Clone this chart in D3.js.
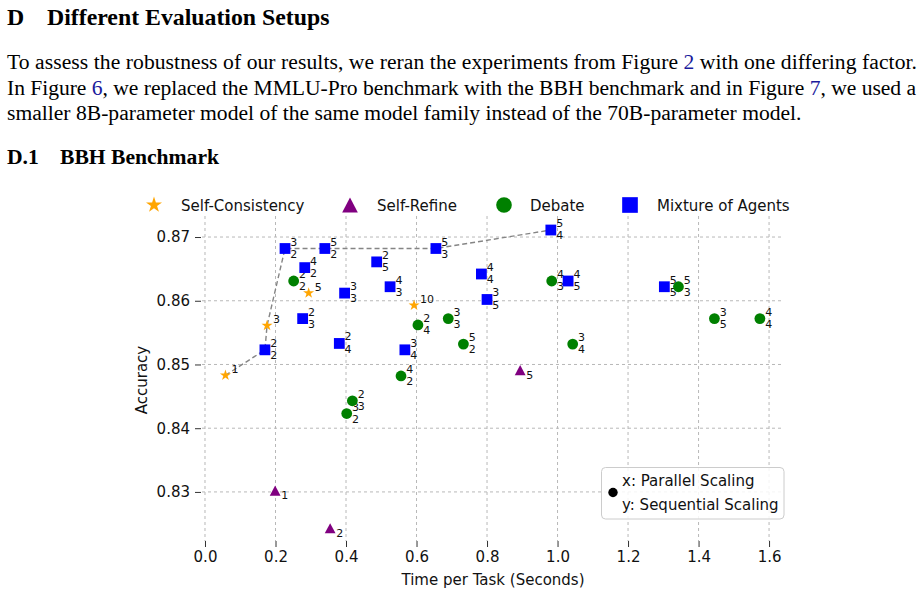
<!DOCTYPE html>
<html><head><meta charset="utf-8">
<script src="https://cdn.jsdelivr.net/npm/d3@7"></script>
<style>body{margin:0;background:#fff}svg{display:block}</style>
</head><body>
<svg id="c" width="923" height="595"></svg>
<script>
// ---------- data ----------
const xTicks = [0.0, 0.2, 0.4, 0.6, 0.8, 1.0, 1.2, 1.4, 1.6];
const yTicks = [0.83, 0.84, 0.85, 0.86, 0.87];

const scX = [0.058, 0.176, 0.294, 0.593];
const scY = [0.8483, 0.8561, 0.8612, 0.8593];
const scLabels = ["1", "3", "5", "10"];

const srX = [0.199, 0.355, 0.894];
const srY = [0.8302, 0.8243, 0.8491];
const srLabels = ["1", "2", "5"];

const debX = [0.2515, 0.604, 0.690, 0.733, 0.556, 0.418, 0.402, 0.9835, 1.343, 1.445, 1.574, 1.043];
const debY = [0.8631, 0.8562, 0.8572, 0.8532, 0.8482, 0.8443, 0.8423, 0.8631, 0.8622, 0.8572, 0.8572, 0.8532];
const debPar = [2, 2, 3, 5, 4, 2, 3, 4, 5, 3, 4, 3];
const debSeq = [2, 4, 3, 2, 2, 3, 2, 3, 3, 5, 4, 4];

const moaX = [0.227, 0.340, 0.655, 0.981, 0.283, 0.487, 0.525, 0.396, 0.277, 0.170, 0.381, 0.567, 0.784, 0.800, 1.030, 1.303];
const moaY = [0.8682, 0.8682, 0.8682, 0.8711, 0.8652, 0.8661, 0.8622, 0.8612, 0.8572, 0.8523, 0.8533, 0.8523, 0.8642, 0.8602, 0.8631, 0.8622];
const moaPar = [3, 5, 5, 5, 4, 2, 4, 3, 2, 2, 2, 3, 4, 3, 4, 5];
const moaSeq = [2, 2, 3, 4, 2, 5, 3, 3, 3, 2, 4, 4, 4, 5, 5, 5];

const legendNames = ["Self-Consistency", "Self-Refine", "Debate", "Mixture of Agents"];
const colors = ["#FFA500", "#800080", "#008000", "#0000FF"];

// ---------- page text ----------
const svg = d3.select("#c");
const serif = "'Liberation Serif','Times New Roman',serif";
const sans = "'DejaVu Sans',sans-serif";

function tline(parts, xx, yy, size, weight, len) {
  const t = svg.append("text").attr("x", xx).attr("y", yy)
    .attr("font-family", serif).attr("font-size", size).attr("font-weight", weight || "normal")
    .attr("fill", "#000");
  parts.forEach(p => t.append("tspan").text(p[0]).attr("fill", p[1] || "#000"));
  if (len) t.attr("textLength", len).attr("lengthAdjust", "spacing");
  return t;
}
tline([["D"]], 7, 24.5, 23.8, "bold");
tline([["Different Evaluation Setups"]], 47, 24.5, 23.8, "bold");
const link = "#1a1a9c";
tline([["To assess the robustness of our results, we reran the experiments from Figure "], ["2", link], [" with one differing factor."]], 7, 69, 21.6, "normal", 910);
tline([["In Figure "], ["6", link], [", we replaced the MMLU-Pro benchmark with the BBH benchmark and in Figure "], ["7", link], [", we used a"]], 7, 94.5, 21.6, "normal", 909);
tline([["smaller 8B-parameter model of the same model family instead of the 70B-parameter model."]], 7, 120, 21.6, "normal");
tline([["D.1"]], 7, 164, 21.6, "bold");
tline([["BBH Benchmark"]], 60, 164, 21.6, "bold");

// ---------- scales ----------
const x = d3.scaleLinear().domain([-0.0085, 1.6367]).range([202, 782]);
const y = d3.scaleLinear().domain([0.8223, 0.8733]).range([541, 216]);

// grid
const grid = svg.append("g").attr("stroke", "#b8b8b8").attr("stroke-width", 1).attr("stroke-dasharray", "3,3");
grid.selectAll("line.v").data(xTicks).join("line")
  .attr("x1", d => x(d)).attr("x2", d => x(d)).attr("y1", 216).attr("y2", 541);
grid.selectAll("line.h").data(yTicks).join("line")
  .attr("y1", d => y(d)).attr("y2", d => y(d)).attr("x1", 202).attr("x2", 782);

// axes
const ax = svg.append("g").attr("transform", "translate(0,541)")
  .call(d3.axisBottom(x).tickValues(xTicks).tickFormat(d3.format(".1f")).tickSize(6).tickPadding(4));
const ay = svg.append("g").attr("transform", "translate(201,0)")
  .call(d3.axisLeft(y).tickValues(yTicks).tickFormat(d3.format(".2f")).tickSize(6).tickPadding(5));
[ax, ay].forEach(a => {
  a.select(".domain").remove();
  a.selectAll(".tick line").attr("stroke", "#333");
  a.selectAll("text").attr("font-family", sans).attr("font-size", 15).attr("fill", "#111");
});
svg.append("text").attr("x", 493).attr("y", 585).attr("text-anchor", "middle")
  .attr("font-family", sans).attr("font-size", 15).attr("fill", "#111").text("Time per Task (Seconds)");
svg.append("text").attr("transform", "translate(147,380) rotate(-90)").attr("text-anchor", "middle")
  .attr("font-family", sans).attr("font-size", 15).attr("fill", "#111").text("Accuracy");

// ---------- markers ----------
function starPath(r) {
  const ri = r * 0.382; let p = [];
  for (let i = 0; i < 10; i++) {
    const a = -Math.PI / 2 + i * Math.PI / 5, rr = i % 2 ? ri : r;
    p.push([rr * Math.cos(a), rr * Math.sin(a)]);
  }
  return "M" + p.map(q => q.join(",")).join("L") + "Z";
}
function triPath(w, h) { return `M0,${-h}L${w},${h}L${-w},${h}Z`; }
function sqPath(s) { return `M${-s},${-s}H${s}V${s}H${-s}Z`; }
function circPath(r) { return `M${r},0A${r},${r} 0 1 1 ${-r},0A${r},${r} 0 1 1 ${r},0Z`; }
const shapes = [s => starPath(5.8 * s), s => triPath(5.4 * s, 5.1 * s), s => circPath(5.4 * s), s => sqPath(5.4 * s)];

// frontier (non-dominated points, time ascending)
const all = [];
scX.forEach((v, i) => all.push([v, scY[i]]));
srX.forEach((v, i) => all.push([v, srY[i]]));
debX.forEach((v, i) => all.push([v, debY[i]]));
moaX.forEach((v, i) => all.push([v, moaY[i]]));
all.sort((a, b) => a[0] - b[0]);
const front = []; let best = -1;
all.forEach(p => { if (p[1] >= best - 1e-9) { front.push(p); best = p[1]; } });
svg.append("path").datum(front)
  .attr("d", d3.line().x(d => x(d[0])).y(d => y(d[1])))
  .attr("fill", "none").attr("stroke", "#858585").attr("stroke-width", 1.4).attr("stroke-dasharray", "5,3");

const lab = svg.append("g").attr("font-family", sans).attr("font-size", 11).attr("fill", "#111");
function drawSet(xs, ys, k) {
  svg.append("g").selectAll("path").data(xs).join("path")
    .attr("transform", (d, i) => `translate(${x(d)},${y(ys[i])})`)
    .attr("d", shapes[k](1)).attr("fill", colors[k]);
}
drawSet(scX, scY, 0);
drawSet(srX, srY, 1);
drawSet(debX, debY, 2);
drawSet(moaX, moaY, 3);

scX.forEach((v, i) => lab.append("text").attr("x", x(v) + 6).attr("y", y(scY[i]) - 2.3).text(scLabels[i]));
srX.forEach((v, i) => lab.append("text").attr("x", x(v) + 6).attr("y", y(srY[i]) + 8.7).text(srLabels[i]));
function pairLabels(xs, ys, ps, qs) {
  xs.forEach((v, i) => {
    lab.append("text").attr("x", x(v) + 5.3).attr("y", y(ys[i]) - 3).text(ps[i]);
    lab.append("text").attr("x", x(v) + 5.3).attr("y", y(ys[i]) + 9.3).text(qs[i]);
  });
}
pairLabels(debX, debY, debPar, debSeq);
pairLabels(moaX, moaY, moaPar, moaSeq);

// ---------- top legend ----------
const legX = [154, 350, 504, 630];
const legTX = [181, 377, 530, 657];
legendNames.forEach((n, k) => {
  svg.append("path").attr("transform", `translate(${legX[k]},205)`).attr("d", shapes[k](1.45)).attr("fill", colors[k]);
  svg.append("text").attr("x", legTX[k]).attr("y", 210.5).attr("font-family", sans).attr("font-size", 15)
    .attr("fill", "#111").text(n);
});

// ---------- scaling legend ----------
svg.append("rect").attr("x", 601.5).attr("y", 467.5).attr("width", 182.5).attr("height", 51.5).attr("rx", 4)
  .attr("fill", "#fff").attr("fill-opacity", 0.85).attr("stroke", "#cccccc");
svg.append("circle").attr("cx", 613).attr("cy", 492.5).attr("r", 4.7).attr("fill", "#000");
svg.append("text").attr("x", 622).attr("y", 486).attr("font-family", sans).attr("font-size", 15).attr("fill", "#111").text("x: Parallel Scaling");
svg.append("text").attr("x", 622).attr("y", 510).attr("font-family", sans).attr("font-size", 15).attr("fill", "#111").text("y: Sequential Scaling");
</script>
</body></html>
